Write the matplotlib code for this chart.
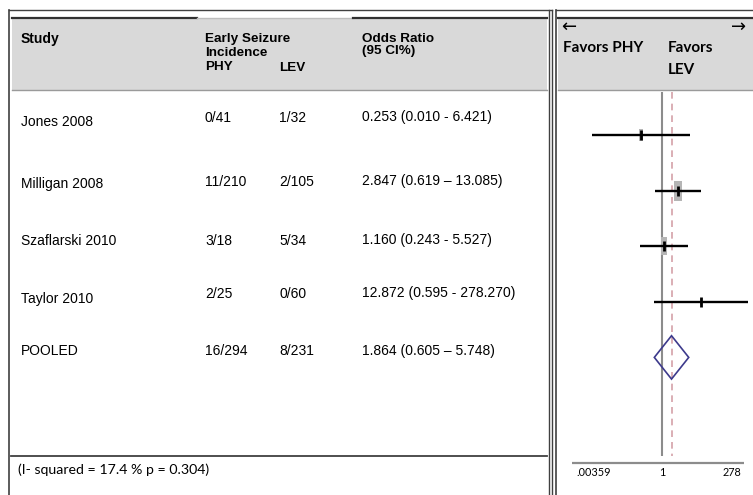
import matplotlib
matplotlib.use("Agg")
import matplotlib.pyplot as plt
from matplotlib.lines import Line2D
from matplotlib.patches import Rectangle, Polygon
import matplotlib.transforms as mtransforms

# ---------------- data ----------------
studies = ["Jones 2008", "Milligan 2008", "Szaflarski 2010", "Taylor 2010"]
phy_events = [0, 11, 3, 2]
phy_total = [41, 210, 18, 25]
lev_events = [1, 2, 5, 0]
lev_total = [32, 105, 34, 60]
odds_ratio = [0.253, 2.847, 1.160, 12.872]
ci_low = [0.010, 0.619, 0.243, 0.595]
ci_high = [6.421, 13.085, 5.527, 278.270]
ci_sep = ["-", "\u2013", "-", "-"]
weights = [9, 14, 13, 4]          # relative box size

pooled_label = "POOLED"
pooled_phy = (16, 294)
pooled_lev = (8, 231)
pooled_or = 1.864
pooled_low = 0.605
pooled_high = 5.748
pooled_sep = "\u2013"

i_squared = 17.4
p_value = 0.304

tick_values = [0.00359, 1, 278]
tick_labels = [".00359", "1", "278"]

# ---------------- layout ----------------
W, H = 753, 495
fig = plt.figure(figsize=(W / 100, H / 100), dpi=100)
fig.patch.set_facecolor("white")


def fx(x):
    return x / W


def fy(y):
    return 1 - y / H


def hline(x0, x1, y, color="#404040", lw=1.0, **kw):
    fig.add_artist(Line2D([fx(x0), fx(x1)], [fy(y), fy(y)], color=color, lw=lw,
                          transform=fig.transFigure, **kw))


def vline(x, y0, y1, color="#404040", lw=1.0, **kw):
    fig.add_artist(Line2D([fx(x), fx(x)], [fy(y0), fy(y1)], color=color, lw=lw,
                          transform=fig.transFigure, **kw))


def band(x0, x1, y0, y1, color="#d9d9d9"):
    fig.add_artist(Rectangle((fx(x0), fy(y1)), fx(x1) - fx(x0), fy(y0) - fy(y1),
                             facecolor=color, edgecolor="none",
                             transform=fig.transFigure, zorder=0))


def txt(x, y, s, size=10, weight="normal", family="Liberation Sans", ha="left", **kw):
    fig.text(fx(x), fy(y), s, fontsize=size, fontweight=weight, family=family,
             ha=ha, va="center", **kw)


# ---- left table panel ----
band(12, 547, 18, 90)
vline(9, 10, 495, lw=1.2)
hline(9, 552, 10, lw=1.0)
vline(549, 10, 495, lw=1.0)
vline(552, 10, 495, lw=1.0)
hline(12, 197, 17.5, color="#303030", lw=1.6)
hline(197, 353, 17.5, color="#bdbdbd", lw=1.0)
hline(353, 547, 17.5, color="#303030", lw=1.6)
hline(12, 547, 90, color="#9a9a9a", lw=1.0)
hline(11, 547, 456, color="#404040", lw=1.3)

# ---- right forest panel frame ----
band(558, 753, 18, 90)
vline(556, 10, 495, lw=1.2)
hline(556, 753, 10, lw=1.0)
hline(558, 753, 17.5, color="#303030", lw=1.6)
hline(558, 753, 90, color="#9a9a9a", lw=1.0)

# ---- table headers ----
col_study, col_phy, col_lev, col_or = 21, 205, 279, 362
txt(col_study, 39, "Study", weight="bold")
txt(col_phy, 39, "Early Seizure", weight="bold", size=9.7)
txt(col_phy, 52.5, "Incidence", weight="bold", size=9.7)
txt(col_phy, 66.5, "PHY", weight="bold", size=9.7)
txt(col_lev, 68, "LEV", weight="bold", size=9.7)
txt(col_or, 39, "Odds Ratio", weight="bold", size=9.7)
txt(col_or, 51, "(95 CI%)", weight="bold", size=9.7)

# ---- table rows ----
name_y = [122, 184, 241, 299]
num_y = [118, 182, 241, 294]
for i, s in enumerate(studies):
    txt(col_study, name_y[i], s)
    txt(col_phy, num_y[i], f"{phy_events[i]}/{phy_total[i]}")
    txt(col_lev, num_y[i], f"{lev_events[i]}/{lev_total[i]}")
    txt(col_or, num_y[i] - 1,
        f"{odds_ratio[i]:.3f} ({ci_low[i]:.3f} {ci_sep[i]} {ci_high[i]:.3f})")
pool_y = 351
txt(col_study, pool_y, pooled_label)
txt(col_phy, pool_y, f"{pooled_phy[0]}/{pooled_phy[1]}")
txt(col_lev, pool_y, f"{pooled_lev[0]}/{pooled_lev[1]}")
txt(col_or, pool_y, f"{pooled_or:.3f} ({pooled_low:.3f} {pooled_sep} {pooled_high:.3f})")

txt(18, 470, f"(I- squared = {i_squared} % p = {p_value})", family="Lato", size=10.2)

# ---- forest header ----
cal = ["Lato", "DejaVu Sans"]
txt(561, 27, "\u2190", family=["DejaVu Sans"], size=13)
txt(746, 27, "\u2192", family=["DejaVu Sans"], size=13, ha="right")
txt(563, 48, "Favors PHY", family=cal, size=11, weight="bold")
txt(668, 48, "Favors", family=cal, size=11, weight="bold")
txt(668, 70, "LEV", family=cal, size=11, weight="bold")

# ---- forest axes ----
X_ONE, PPD = 662.0, 35.2       # pixel of OR=1, pixels per decade
ROW0, ROWH = 135.0, 55.6        # pixel of first row, row spacing
ax_top = 91
ax = fig.add_axes([fx(556), 0, fx(753) - fx(556), fy(ax_top)])
ax.set_xscale("log")
ax.set_xlim(10 ** ((556 - X_ONE) / PPD), 10 ** ((753 - X_ONE) / PPD))
ax.set_ylim((H - ROW0) / ROWH, (ax_top - ROW0) / ROWH)
ax.axis("off")


def row_of(py):
    return (py - ROW0) / ROWH


def val_of(px):
    return 10 ** ((px - X_ONE) / PPD)


rows = list(range(len(studies)))
ax.vlines(1, row_of(92), row_of(456), color="#8c8c8c", lw=1.5, zorder=1)
ax.vlines(pooled_or, row_of(92), row_of(456), color="#d4a1a8", lw=1.2,
          linestyles=(0, (4, 3)), zorder=1)

box = [(-0.19, -0.5), (0.19, -0.5), (0.19, 0.5), (-0.19, 0.5)]
for i in rows:
    ax.plot([ci_low[i], ci_high[i]], [i, i], color="black", lw=1.7,
            solid_capstyle="butt", zorder=3)
    ax.plot([odds_ratio[i]], [i], marker=box, markersize=weights[i],
            color="#b5b5b5", markeredgewidth=0, zorder=2)
    ax.plot([odds_ratio[i]], [i], marker="|", markersize=6.5, mew=2.0,
            color="black", zorder=4)

prow = len(studies)
half = 0.39
diamond = Polygon([(pooled_low, prow), (pooled_or, prow - half),
                   (pooled_high, prow), (pooled_or, prow + half)],
                  closed=True, facecolor="none", edgecolor="#3d3a8c", lw=1.2, zorder=5)
ax.add_patch(diamond)

# axis line and ticks
ax.plot([val_of(572), val_of(744)], [row_of(463), row_of(463)], color="#8c8c8c",
        lw=1.6, solid_capstyle="butt", clip_on=False)
has = ["left", "center", "right"]
offs = [0, 0, -7]
for v, lab, ha, o in zip(tick_values, tick_labels, has, offs):
    tr = mtransforms.offset_copy(ax.transData, fig=fig, x=o, y=0, units="dots")
    ax.text(v, row_of(472), lab, ha=ha, va="center", fontsize=7.8,
            family=cal, transform=tr, clip_on=False)

fig.savefig("out.png", dpi=100)
